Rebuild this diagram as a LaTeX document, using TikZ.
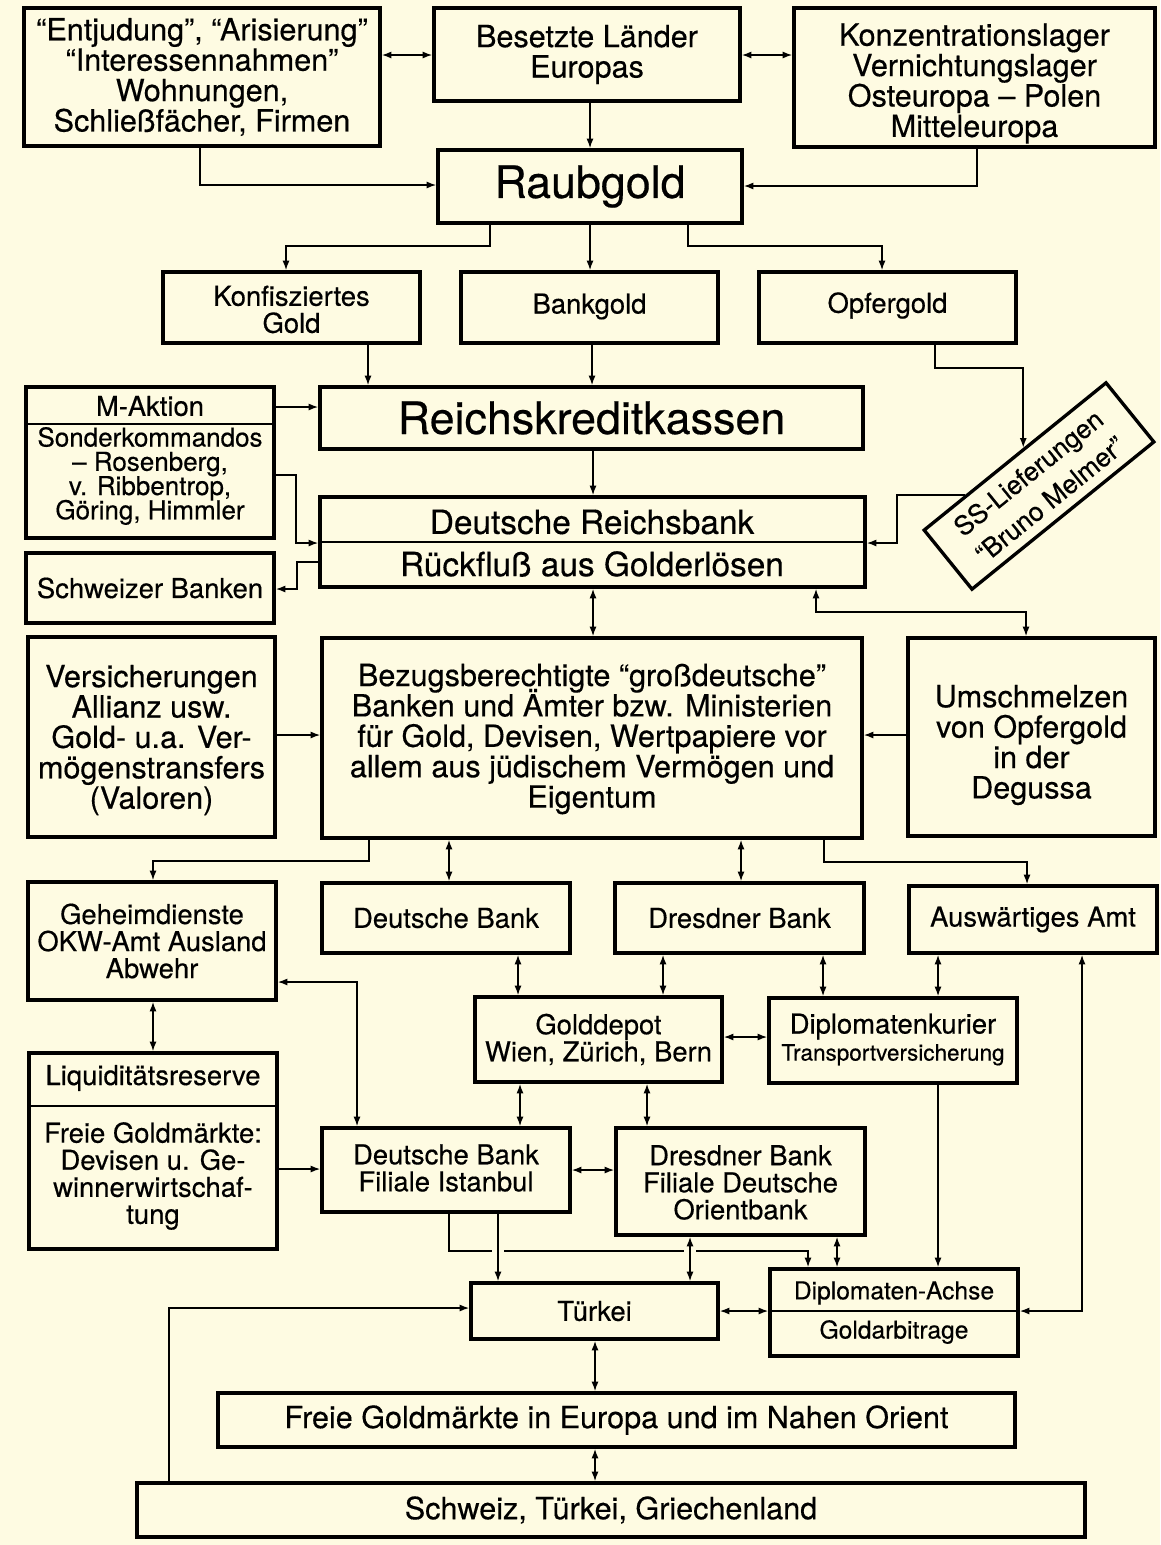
\documentclass[tikz,border=0pt]{standalone}
\usepackage{fontspec}
\setmainfont{TeX Gyre Heros}[FakeBold=0.4]
\usetikzlibrary{arrows.meta,calc}
\definecolor{bgc}{RGB}{254,251,226}
\lineskiplimit=-100pt
\lineskip=0pt
\newcommand{\fs}[2]{\fontsize{#1}{#2}\selectfont\lineskiplimit=-100pt\lineskip=0pt}
\newcommand{\flowbox}[8][]{%
  \node[box,minimum width={(#5-#3)*0.02cm},minimum height={(#6-#4)*0.02cm}] (#2) at ({(#3+#5)/2},{(#4+#6)/2}) {};%
  \node[txt,#1] (#2t) at ({(#3+#5)/2},{(#4+#6)/2+#7}) {#8};}
\begin{document}
\begin{tikzpicture}[x=0.02cm,y=-0.02cm,
  box/.style={draw,line width=1.9pt,inner sep=0pt},
  txt/.style={inner sep=0pt,align=center,font=\fs{15.6}{15.4}},
  big/.style={font=\fs{17.4}{17.3}},
  hugef/.style={font=\fs{25.5}{26}},
  rbf/.style={font=\fs{19}{19}},
  achf/.style={font=\fs{14}{14}},
  con/.style={line width=0.9pt},
  arr/.style={con,-{Latex[length=5.5pt,width=4pt]}},
  darr/.style={con,{Latex[length=5.5pt,width=4pt]}-{Latex[length=5.5pt,width=4pt]}}]
\fill[bgc] (0,0) rectangle (1160,1545);

% ---------- boxes ----------
\flowbox[big]{ent}{24}{8}{380}{146}{0}{“Entjudung”, “Arisierung”\\“Interessennahmen”\\Wohnungen,\\Schließfächer, Firmen}
\flowbox[big]{bes}{434}{8}{740}{101}{0}{Besetzte Länder\\Europas}
\flowbox[big]{kz}{794}{8}{1155}{147}{6}{Konzentrationslager\\Vernichtungslager\\Osteuropa – Polen\\Mitteleuropa}
\flowbox[hugef]{raub}{438}{150}{742}{223}{0}{Raubgold}
\flowbox{konf}{163}{272}{420}{343}{2}{Konfisziertes\\Gold}
\flowbox{bank}{461}{272}{718}{343}{-1}{Bankgold}
\flowbox{opf}{759}{272}{1016}{343}{-2}{Opfergold}
\flowbox[hugef]{rkk}{320}{387}{863}{449}{0}{Reichskreditkassen}
\flowbox{mak}{26}{387}{274}{538}{0}{}
\flowbox{rb}{320}{497}{865}{587}{0}{}
\flowbox{schw}{26}{553}{274}{623}{0}{Schweizer Banken}
\flowbox[big]{vers}{28}{637}{275}{837}{3}{Versicherungen\\Allianz usw.\\Gold- u.a. Ver-\\mögenstransfers\\(Valoren)}
\flowbox[big]{bez}{322}{638}{862}{838}{1}{Bezugsberechtigte “großdeutsche”\\Banken und Ämter bzw. Ministerien\\für Gold, Devisen, Wertpapiere vor\\allem aus jüdischem Vermögen und\\Eigentum}
\flowbox[big]{ums}{908}{638}{1155}{836}{8}{Umschmelzen\\von Opfergold\\in der\\Degussa}
\flowbox{geh}{28}{882}{276}{1000}{0}{Geheimdienste\\OKW-Amt Ausland\\Abwehr}
\flowbox{db}{322}{883}{570}{953}{0}{Deutsche Bank}
\flowbox{dr}{615}{883}{864}{953}{0}{Dresdner Bank}
\flowbox{aa}{909}{886}{1157}{953}{0}{Auswärtiges Amt}
\flowbox{gd}{475}{997}{722}{1082}{0}{Golddepot\\Wien, Zürich, Bern}
\flowbox{dk}{769}{998}{1017}{1083}{-1}{Diplomatenkurier\\{\fs{12.8}{15}Transportversicherung}}
\flowbox{liq}{29}{1053}{277}{1249}{0}{}
\flowbox{ist}{322}{1128}{570}{1212}{-2}{Deutsche Bank\\Filiale Istanbul}
\flowbox{ori}{616}{1128}{865}{1235}{1}{Dresdner Bank\\Filiale Deutsche\\Orientbank}
\flowbox{tur}{471}{1283}{718}{1339}{0}{Türkei}
\flowbox{ach}{770}{1269}{1018}{1356}{0}{}
\flowbox[big]{fre}{218}{1393}{1015}{1447}{0}{Freie Goldmärkte in Europa und im Nahen Orient}
\flowbox[big]{sch}{137}{1483}{1085}{1537}{0}{Schweiz, Türkei, Griechenland}

\node[draw,line width=1.9pt,rotate=39,minimum width={234*0.02cm},minimum height={76*0.02cm},
  inner sep=0pt,align=center,font=\fs{15}{19.5}] (ss) at (1039,486) {SS-Lieferungen\\“Bruno Melmer”};

% ---------- texts in divided boxes ----------
\node[txt] (makt) at (150,406) {M-Aktion};
\node[txt,font=\fs{14.8}{13.8}] (makb) at (150,476) {Sonderkommandos\\– Rosenberg,\\v. Ribbentrop,\\Göring, Himmler};
\draw[con] (mak.west |- 0,424) -- (mak.east |- 0,424);
\node[txt,rbf] (rbt) at (592,522) {Deutsche Reichsbank};
\node[txt,rbf] (rbb) at (592,564) {Rückfluß aus Golderlösen};
\draw[con] (rb.west |- 0,542) -- (rb.east |- 0,542);
\node[txt] (liqt) at (153,1078) {Liquiditätsreserve};
\node[txt] (liqb) at (153,1176) {Freie Goldmärkte:\\Devisen u. Ge-\\winnerwirtschaf-\\tung};
\draw[con] (liq.west |- 0,1106) -- (liq.east |- 0,1106);
\node[txt,achf] (acht) at (894,1293) {Diplomaten-Achse};
\node[txt,achf] (achb) at (894,1332) {Goldarbitrage};
\draw[con] (ach.west |- 0,1311) -- (ach.east |- 0,1311);

% ---------- connectors ----------
\draw[darr] (ent.east |- 0,55) -- (bes.west |- 0,55);
\draw[darr] (bes.east |- 0,55) -- (kz.west |- 0,55);
\draw[arr] (bes.south -| 590,0) -- (raub.north -| 590,0);
\draw[arr] (ent.south -| 200,0) |- (raub.west |- 0,185);
\draw[arr] (kz.south -| 977,0) |- (raub.east |- 0,186);
\draw[arr] (raub.south -| 490,0) -- (490,246) -| (konf.north -| 286,0);
\draw[arr] (raub.south -| 590,0) -- (bank.north -| 590,0);
\draw[arr] (raub.south -| 688,0) -- (688,246) -| (opf.north -| 882,0);
\draw[arr] (konf.south -| 368,0) -- (rkk.north -| 368,0);
\draw[arr] (bank.south -| 592,0) -- (rkk.north -| 592,0);
\coordinate (ssin) at ($(ss.north west)!0.55!(ss.north east)$);
\coordinate (ssout) at ($(ss.north west)!0.235!(ss.north east)$);
\draw[arr] (opf.south -| 935,0) |- (ssin |- 0,368) -- (ssin);
\draw[arr] (ssout) -- (ssout -| 897,0) |- (rb.east |- 0,543);
\draw[arr] (mak.east |- 0,407) -- (rkk.west |- 0,407);
\draw[arr] (mak.east |- 0,475) -- (296,475) |- (rb.west |- 0,543);
\draw[arr] (rb.west |- 0,562) -- (297,562) |- (schw.east |- 0,589);
\draw[arr] (rkk.south -| 593,0) -- (rb.north -| 593,0);
\draw[darr] (rb.south -| 593,0) -- (bez.north -| 593,0);
\draw[darr] (rb.south -| 816,0) -- (816,612) -| (ums.north -| 1026,0);
\draw[arr] (vers.east |- 0,735) -- (bez.west |- 0,735);
\draw[arr] (ums.west |- 0,735) -- (bez.east |- 0,735);
\draw[arr] (bez.south -| 369,0) -- (369,861) -| (geh.north -| 153,0);
\draw[darr] (bez.south -| 449,0) -- (db.north -| 449,0);
\draw[darr] (bez.south -| 741,0) -- (dr.north -| 741,0);
\draw[arr] (bez.south -| 824,0) -- (824,862) -| (aa.north -| 1027,0);
\draw[darr] (db.south -| 518,0) -- (gd.north -| 518,0);
\draw[darr] (dr.south -| 663,0) -- (gd.north -| 663,0);
\draw[darr] (dr.south -| 823,0) -- (dk.north -| 823,0);
\draw[darr] (aa.south -| 938,0) -- (dk.north -| 938,0);
\draw[darr] (gd.east |- 0,1037) -- (dk.west |- 0,1037);
\draw[darr] (geh.south -| 153,0) -- (liq.north -| 153,0);
\draw[darr] (geh.east |- 0,982) -| (ist.north -| 357,0);
\draw[arr] (liq.east |- 0,1169) -- (ist.west |- 0,1169);
\draw[darr] (gd.south -| 520,0) -- (ist.north -| 520,0);
\draw[darr] (gd.south -| 647,0) -- (ori.north -| 647,0);
\draw[darr] (ist.east |- 0,1170) -- (ori.west |- 0,1170);
\draw[arr] (ist.south -| 498,0) -- (tur.north -| 498,0);
\draw[arr] (ist.south -| 449,0) -- (449,1251) -- (492,1251) (504,1251) -- (684,1251) (696,1251) -| (ach.north -| 808,0);
\draw[darr] (ori.south -| 690,0) -- (tur.north -| 690,0);
\draw[darr] (ori.south -| 837,0) -- (ach.north -| 837,0);
\draw[arr] (dk.south -| 938,0) -- (ach.north -| 938,0);
\draw[darr] (ach.east |- 0,1311) -| (aa.south -| 1082,0);
\draw[darr] (tur.east |- 0,1311) -- (ach.west |- 0,1311);
\draw[darr] (tur.south -| 595,0) -- (fre.north -| 595,0);
\draw[darr] (fre.south -| 595,0) -- (sch.north -| 595,0);
\draw[arr] (sch.north -| 169,0) |- (tur.west |- 0,1308);
\end{tikzpicture}
\end{document}
